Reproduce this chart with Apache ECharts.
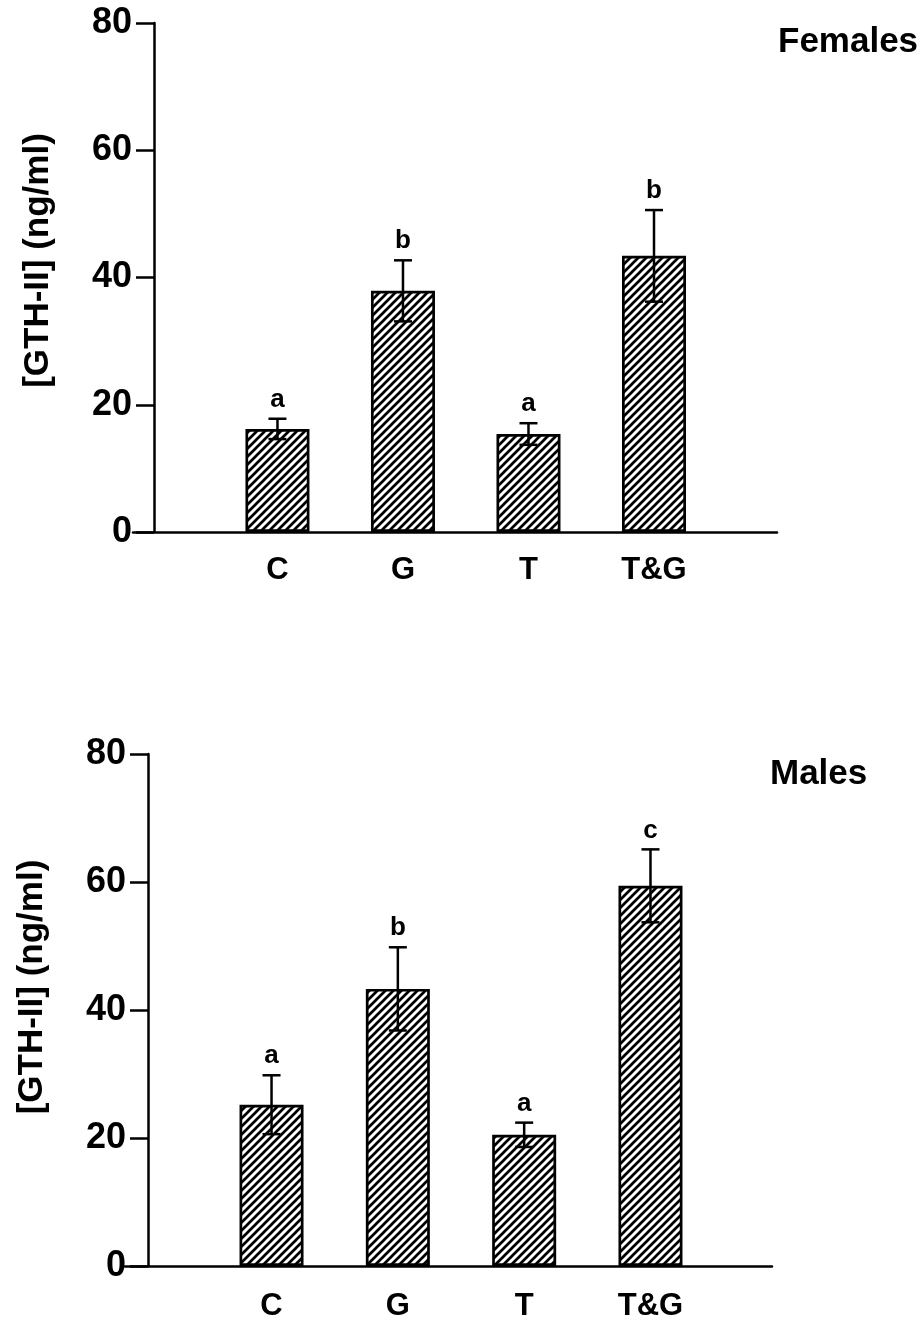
<!DOCTYPE html>
<html>
<head>
<meta charset="utf-8">
<script src="https://cdn.jsdelivr.net/npm/echarts@6/dist/echarts.min.js"></script>
<style>html,body{margin:0;padding:0;background:#fff;}#c{width:923px;height:1319px;}</style>
</head>
<body>
<div id="c"></div>
<script>
// ---- data ----
const categories = ['C', 'G', 'T', 'T&G'];
const xPositions = [1, 2, 3, 4];
const yTicks = [0, 20, 40, 60, 80];
const femaleMean = [16.2, 37.9, 15.4, 43.4];
const femaleSem = [1.6, 4.8, 1.7, 7.2];
const femaleSig = ['a', 'b', 'a', 'b'];
const maleMean = [25.2, 43.3, 20.5, 59.4];
const maleSem = [4.6, 6.5, 1.9, 5.7];
const maleSig = ['a', 'b', 'a', 'c'];
const panelTitles = ['Females', 'Males'];
const yAxisTitle = '[GTH-II] (ng/ml)';

const FONT = '"Liberation Sans", Arial, Helvetica, sans-serif';

// hatch pattern
function makeHatch() {
  const s = 8;
  const cv = document.createElement('canvas');
  cv.width = s; cv.height = s;
  const g = cv.getContext('2d');
  g.fillStyle = '#fff';
  g.fillRect(0, 0, s, s);
  g.strokeStyle = '#000';
  g.lineWidth = 2.7;
  g.beginPath();
  g.moveTo(-s, 2 * s); g.lineTo(2 * s, -s);
  g.moveTo(-2 * s, 2 * s); g.lineTo(s, -s);
  g.moveTo(0, 2 * s); g.lineTo(3 * s, -s);
  g.stroke();
  return cv;
}
const hatch = makeHatch();

const chart = echarts.init(document.getElementById('c'), null, {renderer: 'canvas'});

const grids = [
  {left: 133, right: 146, top: 23, height: 509, xmin: -0.151, xmax: 4.98, yoff: -21, namePad: 34},
  {left: 125, right: 151, top: 754, height: 512, xmin: -0.16, xmax: 4.962, yoff: -23, namePad: 46}
];
const means = [femaleMean, maleMean];
const sems = [femaleSem, maleSem];
const sigs = [femaleSig, maleSig];

const option = {
  animation: false,
  backgroundColor: '#fff',
  title: [
    {text: panelTitles[0], left: 773, top: 20, textStyle: {fontFamily: FONT, fontSize: 35, fontWeight: 'bold', color: '#000'}},
    {text: panelTitles[1], left: 765, top: 752, textStyle: {fontFamily: FONT, fontSize: 35, fontWeight: 'bold', color: '#000'}}
  ],
  grid: grids.map(g => ({left: g.left, right: g.right, top: g.top, height: g.height, outerBoundsMode: 'none', containLabel: false})),
  xAxis: grids.map((g, i) => ({
    type: 'value', gridIndex: i, min: g.xmin, max: g.xmax,
    axisLine: {show: true, onZero: false, lineStyle: {color: '#000', width: 2.5}},
    axisTick: {show: false},
    splitLine: {show: false},
    axisLabel: {
      customValues: xPositions,
      formatter: v => categories[xPositions.indexOf(Math.round(v))] || '',
      margin: i === 0 ? 23 : 25,
      fontFamily: FONT, fontSize: 31, fontWeight: 'bold', color: '#000'
    }
  })),
  yAxis: grids.map((g, i) => ({
    type: 'value', gridIndex: i, min: 0, max: 80, interval: 20, offset: g.yoff,
    name: yAxisTitle, nameLocation: 'middle', nameRotate: 90, nameGap: 98,
    nameTextStyle: {fontFamily: FONT, fontSize: 35, fontWeight: 'bold', color: '#000', padding: [0, 0, 0, g.namePad]},
    axisLine: {show: true, onZero: false, lineStyle: {color: '#000', width: 2.5}},
    axisTick: {show: true, length: 18, lineStyle: {color: '#000', width: 2.5}},
    splitLine: {show: false},
    axisLabel: {
      margin: 22, fontFamily: FONT, fontSize: 36, fontWeight: 'bold', color: '#000',
      formatter: v => (yTicks.indexOf(v) >= 0 ? String(v) : '')
    }
  })),
  series: []
};

[0, 1].forEach(i => {
  option.series.push({
    type: 'bar', xAxisIndex: i, yAxisIndex: i, barWidth: 64,
    data: xPositions.map((x, k) => [x, means[i][k]]),
    itemStyle: {color: {image: hatch, repeat: 'repeat'}, borderColor: '#000', borderWidth: 2.7},
    z: 2
  });
  const sig = sigs[i];
  option.series.push({
    type: 'custom', xAxisIndex: i, yAxisIndex: i, z: 5,
    data: xPositions.map((x, k) => [x, means[i][k] - sems[i][k], means[i][k] + sems[i][k]]),
    renderItem: (params, api) => {
      const x = api.value(0);
      const pHi = api.coord([x, api.value(2)]);
      const pLo = api.coord([x, api.value(1)]);
      const hw = 9;
      const st = {stroke: '#000', lineWidth: 2.5};
      return {
        type: 'group',
        children: [
          {type: 'line', shape: {x1: pHi[0], y1: pHi[1], x2: pLo[0], y2: pLo[1]}, style: st},
          {type: 'line', shape: {x1: pHi[0] - hw, y1: pHi[1], x2: pHi[0] + hw, y2: pHi[1]}, style: st},
          {type: 'line', shape: {x1: pLo[0] - hw, y1: pLo[1], x2: pLo[0] + hw, y2: pLo[1]}, style: st},
          {type: 'text', x: pHi[0], y: pHi[1] - 6,
           style: {text: sig[params.dataIndex], align: 'center', verticalAlign: 'bottom',
                   fontFamily: FONT, fontSize: 26, fontWeight: 'bold', fill: '#000'}}
        ]
      };
    }
  });
});

chart.setOption(option);
</script>
</body>
</html>
